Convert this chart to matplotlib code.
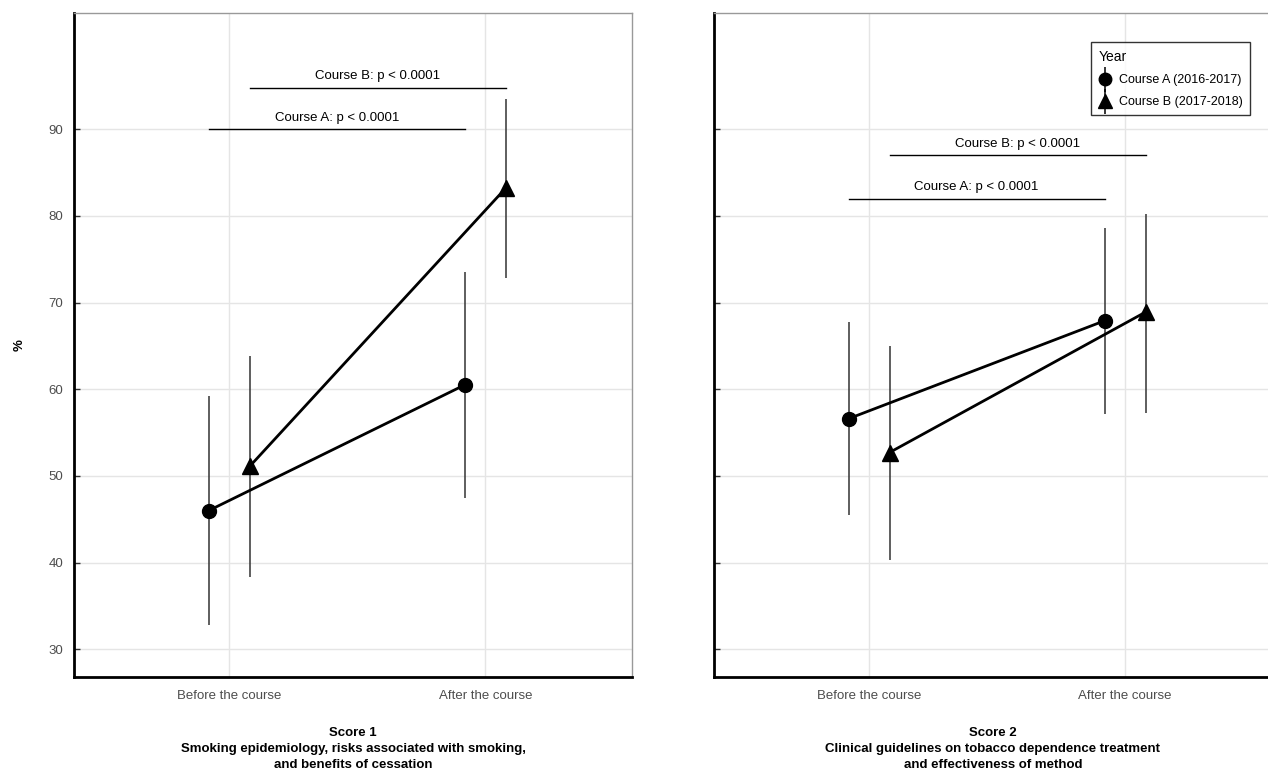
import numpy as np
import matplotlib
matplotlib.use("Agg")
import matplotlib.pyplot as plt
from matplotlib.lines import Line2D

plt.rcParams["font.family"] = ["Liberation Sans", "DejaVu Sans"]

# ---- data ----
periods = ["Before the course", "After the course"]
courses = ["Course A (2016-2017)", "Course B (2017-2018)"]
markers = ["o", "^"]

# score 1
s1_mean = {"A": [46.0, 60.5], "B": [51.1, 83.2]}
s1_lo = {"A": [32.8, 47.5], "B": [38.3, 72.8]}
s1_hi = {"A": [59.2, 73.5], "B": [63.8, 93.5]}
# score 2
s2_mean = {"A": [56.6, 67.9], "B": [52.7, 68.9]}
s2_lo = {"A": [45.5, 57.1], "B": [40.3, 57.3]}
s2_hi = {"A": [67.8, 78.6], "B": [65.0, 80.2]}

s1_brackets = [("Course A: p < 0.0001", 90.0, "A"), ("Course B: p < 0.0001", 94.8, "B")]
s2_brackets = [("Course A: p < 0.0001", 82.0, "A"), ("Course B: p < 0.0001", 87.0, "B")]

titles = ["Score 1\nSmoking epidemiology, risks associated with smoking,\nand benefits of cessation",
          "Score 2\nClinical guidelines on tobacco dependence treatment\nand effectiveness of method"]

DODGE = {"A": -0.08, "B": 0.08}
GRID = "#e5e5e5"
TXT = "#4d4d4d"

fig = plt.figure(figsize=(12.68, 7.69), dpi=100)
ax1 = fig.add_axes([0.0584, 0.1196, 0.44, 0.8635])
ax2 = fig.add_axes([0.563, 0.1196, 0.44, 0.8635])


def panel(ax, mean, lo, hi, brackets, title, ylabels=True):
    x = np.arange(1, len(periods) + 1)
    for key, mk in zip(["A", "B"], markers):
        xs = x + DODGE[key]
        m = np.array(mean[key])
        err = np.array([m - np.array(lo[key]), np.array(hi[key]) - m])
        ax.errorbar(xs, m, yerr=err, fmt="none", ecolor="#333333", elinewidth=1.1, zorder=3)
        ax.plot(xs, m, color="black", lw=2, marker=mk,
                ms=10 if mk == "o" else 11, zorder=4)
    for lab, y, key in brackets:
        x0, x1 = 1 + DODGE[key], 2 + DODGE[key]
        ax.plot([x0, x1], [y, y], color="black", lw=1, zorder=2)
        ax.text((x0 + x1) / 2, y + 0.6, lab, ha="center", va="bottom", fontsize=9.5)
    ax.set_xlim(0.394, 2.573)
    ax.set_ylim(26.8, 103.4)
    ax.set_xticks(x)
    ax.set_xticklabels(periods, fontsize=9.5, color=TXT)
    ax.set_yticks(np.arange(30, 91, 10))
    if ylabels:
        ax.set_yticklabels([str(v) for v in range(30, 91, 10)], fontsize=9.5, color=TXT)
    else:
        ax.set_yticklabels([])
    ax.tick_params(axis="y", direction="in", length=4, width=1, pad=8, color="#333333")
    ax.tick_params(axis="x", length=0, pad=9)
    ax.grid(True, color=GRID, lw=1)
    ax.set_axisbelow(True)
    for s in ["top", "right"]:
        ax.spines[s].set_color("#999999")
        ax.spines[s].set_linewidth(1)
    for s in ["left", "bottom"]:
        ax.spines[s].set_color("black")
        ax.spines[s].set_linewidth(2)
    ax.set_xlabel(title, fontsize=9.5, fontweight="bold", labelpad=18, linespacing=1.45)


panel(ax1, s1_mean, s1_lo, s1_hi, s1_brackets, titles[0])
panel(ax2, s2_mean, s2_lo, s2_hi, s2_brackets, titles[1], ylabels=False)
ax1.set_ylabel("%", fontsize=9.5, fontweight="bold", labelpad=16)

handles = [(Line2D([], [], color="black", lw=0, marker="|", ms=18, mew=1.1),
            Line2D([], [], color="black", lw=0, marker=m, ms=9 if m == "o" else 10))
           for m in markers]
leg = ax2.legend(handles, courses, title="Year", loc="upper right",
                 bbox_to_anchor=(0.972, 0.965), fontsize=9, title_fontsize=10,
                 frameon=True, fancybox=False, edgecolor="black", handlelength=1.0,
                 handletextpad=0.6, borderpad=0.6, labelspacing=0.8)
leg._legend_box.align = "left"
leg.get_frame().set_linewidth(1)

fig.savefig("out.png", dpi=100)
